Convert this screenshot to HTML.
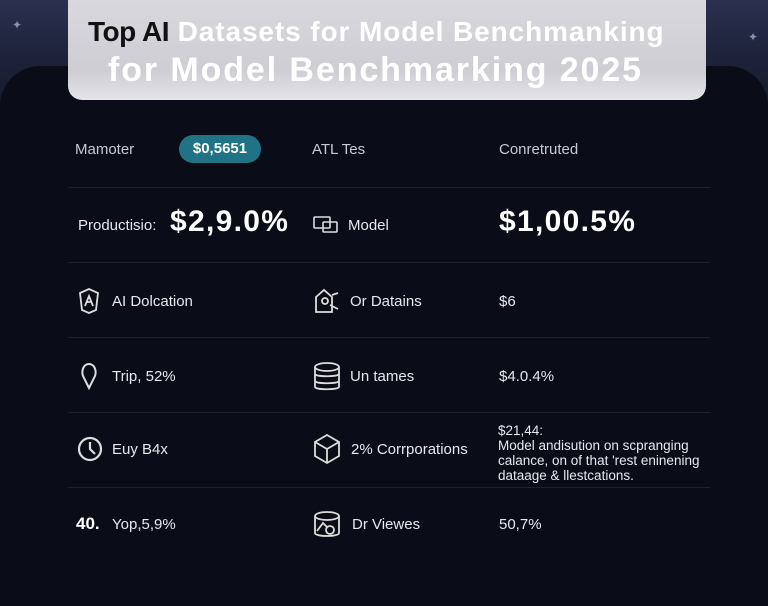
<!DOCTYPE html>
<html><head><meta charset="utf-8"><style>
html,body{margin:0;padding:0}
body{width:768px;height:576px;overflow:hidden;position:relative;font-family:"Liberation Sans","DejaVu Sans",sans-serif;background:linear-gradient(#2b3050 0%,#1d2238 60px,#141829 120px);}
.panel{position:absolute;left:0;top:66px;width:768px;height:540px;background:#0a0d18;border-radius:40px 40px 0 0;}
.title{position:absolute;left:68px;top:0;width:638px;height:100px;border-radius:0 0 14px 14px;background:linear-gradient(#d9d8de,#cfcdd4 70%,#e4e3e8);}
.t1{position:absolute;left:20px;top:16px;font-size:28px;font-weight:bold;color:#fff;letter-spacing:0.9px;white-space:nowrap}
.t1 b{color:#111;letter-spacing:-0.5px}
.t2{position:absolute;left:40px;top:51px;font-size:34px;font-weight:bold;color:#fff;letter-spacing:1.9px;white-space:nowrap}
.txt{position:absolute;color:#e6e8ee;font-size:15px;white-space:nowrap}
.hr{position:absolute;left:68px;width:642px;height:1px;background:#1c2030}
.big{font-size:30px;font-weight:bold;color:#fff;letter-spacing:1.3px}
.pill{position:absolute;left:179px;top:135px;width:82px;height:28px;border-radius:14px;background:#1f7385;color:#fff;font-size:15px;font-weight:bold;text-align:center;line-height:28px}
.star{position:absolute;color:#8890b0;font-size:12px}
svg{position:absolute}
</style></head><body>
<div class="star" style="left:12px;top:18px">✦</div>
<div class="star" style="left:748px;top:30px">✦</div>
<div class="panel"></div>
<div class="title"><div class="t1"><b>Top AI</b> Datasets for Model Benchmanking</div><div class="t2">for Model Benchmarking 2025</div></div>

<div class="txt" style="left:75px;top:141px;color:#c7cad3">Mamoter</div>
<div class="pill">$0,5651</div>
<div class="txt" style="left:312px;top:141px;color:#c7cad3">ATL Tes</div>
<div class="txt" style="left:499px;top:141px;color:#c7cad3">Conretruted</div>
<div class="hr" style="top:187px"></div>

<div class="txt" style="left:78px;top:217px">Productisio:</div>
<div class="txt big" style="left:170px;top:205px">$2,9.0%</div>
<svg style="left:313px;top:215px" width="26" height="20" viewBox="0 0 26 20" fill="none" stroke="#ddd" stroke-width="1.6"><rect x="1" y="2" width="16" height="11" rx="1"/><rect x="10" y="7" width="14" height="10" rx="1"/></svg>
<div class="txt" style="left:348px;top:217px">Model</div>
<div class="txt big" style="left:499px;top:205px">$1,00.5%</div>
<div class="hr" style="top:262px"></div>

<svg style="left:77px;top:288px" width="24" height="26" viewBox="0 0 24 26" fill="none" stroke="#ddd" stroke-width="1.8"><path d="M3 5 L12 1 L21 5 L19 22 L12 25 L5 22 Z"/><path d="M8 18 L12 8 L16 18 M9 14 H15"/></svg>
<div class="txt" style="left:112px;top:293px">AI Dolcation</div>
<svg style="left:312px;top:287px" width="28" height="28" viewBox="0 0 28 28" fill="none" stroke="#ddd" stroke-width="1.8"><path d="M4 10 L12 3 L20 10 V25 H4 Z"/><circle cx="13" cy="14" r="3"/><path d="M18 18 L26 22 M20 8 L26 6"/></svg>
<div class="txt" style="left:350px;top:293px">Or Datains</div>
<div class="txt" style="left:499px;top:293px">$6</div>
<div class="hr" style="top:337px"></div>

<svg style="left:80px;top:362px" width="18" height="28" viewBox="0 0 18 28" fill="none" stroke="#ddd" stroke-width="2"><path d="M9 26 L3 14 C1 8 4 2 9 2 C14 2 17 8 15 14 Z"/></svg>
<div class="txt" style="left:112px;top:368px">Trip, 52%</div>
<svg style="left:313px;top:362px" width="28" height="30" viewBox="0 0 28 30" fill="none" stroke="#ddd" stroke-width="1.8"><ellipse cx="14" cy="5" rx="12" ry="4"/><path d="M2 5 V25 C2 28 26 28 26 25 V5 M2 12 C2 15 26 15 26 12 M2 19 C2 22 26 22 26 19"/></svg>
<div class="txt" style="left:350px;top:368px">Un tames</div>
<div class="txt" style="left:499px;top:368px">$4.0.4%</div>
<div class="hr" style="top:412px"></div>

<svg style="left:77px;top:436px" width="26" height="26" viewBox="0 0 26 26" fill="none" stroke="#ddd" stroke-width="2.2"><circle cx="13" cy="13" r="11"/><path d="M13 6 V13 L18 18"/></svg>
<div class="txt" style="left:112px;top:441px">Euy B4x</div>
<svg style="left:313px;top:433px" width="28" height="32" viewBox="0 0 28 32" fill="none" stroke="#ddd" stroke-width="1.8"><path d="M14 2 L26 9 V23 L14 30 L2 23 V9 Z M2 9 L14 16 L26 9 M14 16 V30"/></svg>
<div class="txt" style="left:351px;top:441px">2% Corrporations</div>
<div style="position:absolute;left:498px;top:423px;color:#e6e8ee;font-size:13.5px;line-height:15px;white-space:nowrap">$21,44:<br>Model andisution on scpranging<br>calance, on of that 'rest eninening<br>dataage &amp; llestcations.</div>
<div class="hr" style="top:487px"></div>

<div class="txt" style="left:76px;top:514px;font-size:17px;font-weight:bold;color:#fff">40.</div>
<div class="txt" style="left:112px;top:516px">Yop,5,9%</div>
<svg style="left:313px;top:511px" width="28" height="28" viewBox="0 0 28 28" fill="none" stroke="#ddd" stroke-width="1.8"><ellipse cx="14" cy="5" rx="12" ry="4"/><path d="M2 5 V22 C2 26 26 26 26 22 V5"/><circle cx="17" cy="19" r="4"/><path d="M4 20 L10 12 L14 16"/></svg>
<div class="txt" style="left:352px;top:516px">Dr Viewes</div>
<div class="txt" style="left:499px;top:516px">50,7%</div>
</body></html>
